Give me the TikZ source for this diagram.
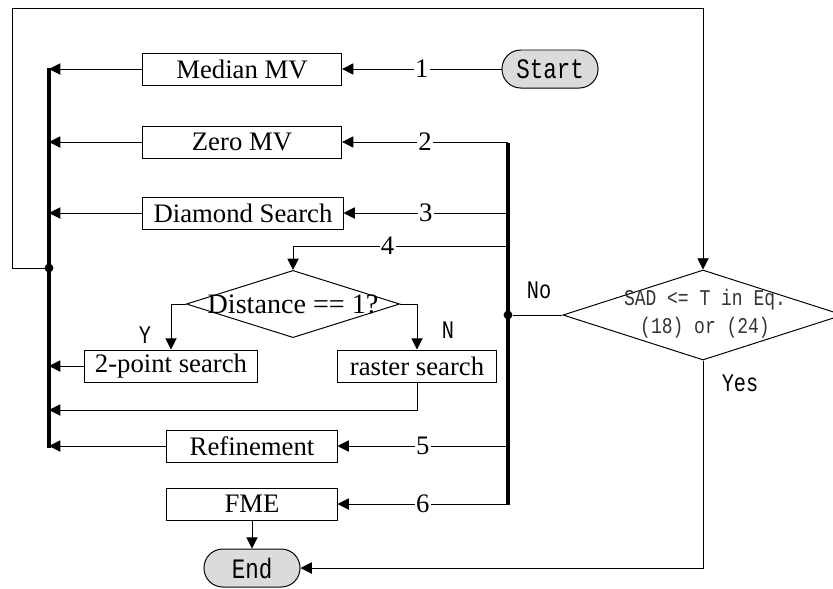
\documentclass[tikz,border=0pt]{standalone}
\usepackage{fontspec}
\setmainfont{Liberation Serif}
\setmonofont[FakeStretch=0.8]{Liberation Mono}
\usetikzlibrary{arrows.meta,shapes.geometric}

\begin{document}
\begin{tikzpicture}[x=0.025cm,y=-0.025cm]
        \tikzset{box/.style={draw,rectangle,line width=0.7pt,minimum height=0.8cm,
                inner sep=0pt,font=\fontsize{19}{21}\selectfont},
            term/.style={draw,rectangle,rounded corners=0.47cm,fill=black!14,line width=0.7pt,
                minimum width=2.4cm,minimum height=0.95cm,font=\ttfamily\fontsize{20}{22}\selectfont},
            decision/.style={draw,diamond,line width=0.7pt,inner sep=0pt},
            flow/.style={draw,line width=0.7pt,-{Triangle[length=8pt,width=8pt]}},
            link/.style={draw,line width=0.7pt},
            bus/.style={line width=2.8pt},
            num/.style={fill=white,inner sep=1pt,font=\fontsize{19}{21}\selectfont},
            answer/.style={font=\ttfamily\fontsize{18}{20}\selectfont},
            dot/.style={circle,fill,inner sep=0pt,minimum size=0.22cm}}
        \useasboundingbox (0,0) rectangle (833,588);

        % boxes
        \node[term] (start) at (550,69) {Start};
        \node[box,minimum width=4.98cm] (median) at (242,69) {Median MV};
        \node[box,minimum width=4.98cm] (zero) at (242,142) {Zero MV};
        \node[box,minimum width=5cm] (diamond) at (243,213) {Diamond Search};
        \node[decision,minimum width=5.33cm,minimum height=1.68cm] (dist) at (293,304) {};
        \node[font=\fontsize{20}{22}\selectfont] at (dist) {Distance == 1?};
        \node[box,minimum width=4.33cm] (twopt) at (171,366) {2-point search};
        \node[box,minimum width=3.98cm] (raster) at (417,366) {raster search};
        \node[box,minimum width=4.25cm] (refine) at (252,446) {Refinement};
        \node[box,minimum width=4.25cm] (fme) at (252,504) {FME};
        \node[term] (end) at (252,568) {End};
        \node[decision,minimum width=7cm,minimum height=2.25cm] (sad) at (703,315) {};
        \node[align=center,text=black!80,font=\ttfamily\fontsize{16}{20}\selectfont] at (705,314)
            {SAD <= T in Eq.\\(18) or (24)};

        % buses
        \coordinate (lbus) at (49,68);
        \coordinate (rbus) at (508,143);
        \coordinate (t4) at (508,246);
        \coordinate (m4) at (49,410);
        \coordinate (top) at (12,8);
        \draw[bus] (lbus) -- (49,448);
        \draw[bus] (rbus) -- (508,505);
        \node[dot] (ldot) at (49,268) {};
        \node[dot] (rdot) at (508,315) {};

        % connectors
        \draw[flow] (start) -- node[num]{1} (median);
        \draw[flow] (median) -- (median -| lbus);
        \draw[flow] (zero -| rbus) -- node[num]{2} (zero);
        \draw[flow] (zero) -- (zero -| lbus);
        \draw[flow] (diamond -| rbus) -- node[num]{3} (diamond);
        \draw[flow] (diamond) -- (diamond -| lbus);
        \draw[flow] (t4) -| node[num,pos=0.28]{4} (dist.north);
        \draw[flow] (dist.west) -| (twopt.north);
        \draw[flow] (dist.east) -| (raster.north);
        \draw[flow] (twopt) -- (twopt -| lbus);
        \draw[flow] (raster.south) |- (m4);
        \draw[flow] (refine -| rbus) -- node[num]{5} (refine);
        \draw[flow] (refine) -- (refine -| lbus);
        \draw[flow] (fme -| rbus) -- node[num]{6} (fme);
        \draw[flow] (fme) -- (end);
        \draw[link] (rdot) -- (sad.west);
        \draw[flow] (sad.south) |- (end);
        \draw[flow] (ldot.center) -| (top) -| (sad.north);

        % answers
        \node[answer] at (145,335) {Y};
        \node[answer] at (448,330) {N};
        \node[answer] at (539,290) {No};
        \node[answer] at (740,383) {Yes};
    \end{tikzpicture}
\end{document}
